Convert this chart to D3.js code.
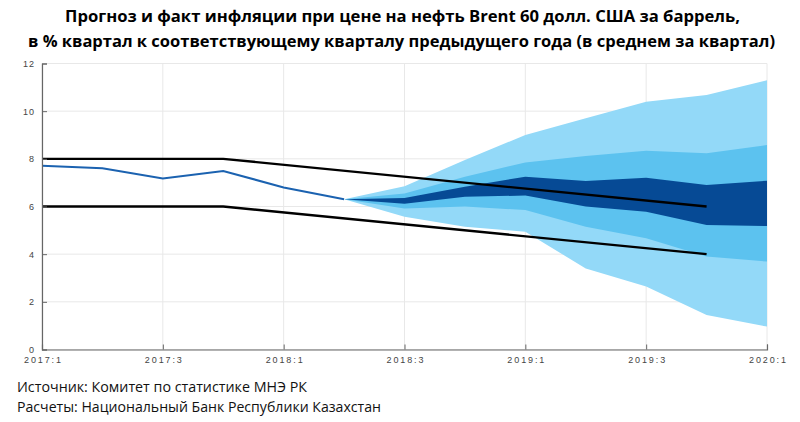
<!DOCTYPE html>
<html><head><meta charset="utf-8">
<script src="https://cdn.jsdelivr.net/npm/d3@7"></script>
<style>
html,body{margin:0;padding:0;background:#fff;}
svg{display:block;}
</style></head>
<body>
<svg id="chart" width="800" height="422"></svg>
<script>
// ---- data ----
const titleLines = [
  "Прогноз и факт инфляции при цене на нефть Brent 60 долл. США за баррель,",
  "в % квартал к соответствующему кварталу предыдущего года (в среднем за квартал)"
];
const footnotes = [
  "Источник: Комитет по статистике МНЭ РК",
  "Расчеты: Национальный Банк Республики Казахстан"
];
const xTickIdx = [0, 2, 4, 6, 8, 10, 12];
const xTickLabels = ["2017:1", "2017:3", "2018:1", "2018:3", "2019:1", "2019:3", "2020:1"];
const yTicks = [0, 2, 4, 6, 8, 10, 12];

// actual inflation, quarters 0..5
const actualIdx = [0, 1, 2, 3, 4, 5];
const actual = [7.71, 7.6, 7.18, 7.49, 6.8, 6.3];

// target corridor break points
const corridorIdx = [0, 3, 11];
const corridorUpper = [8, 8, 6];
const corridorLower = [6, 6, 4];

// fan chart, quarters 5..12
const fanIdx = [5, 6, 7, 8, 9, 10, 11, 12];
const outerHi = [6.3, 6.85, 7.95, 9.0, 9.7, 10.4, 10.68, 11.3];
const midHi   = [6.3, 6.55, 7.25, 7.85, 8.12, 8.34, 8.23, 8.58];
const darkHi  = [6.3, 6.36, 6.83, 7.25, 7.07, 7.21, 6.9, 7.08];
const darkLo  = [6.3, 6.12, 6.41, 6.46, 6.0, 5.78, 5.22, 5.18];
const midLo   = [6.3, 5.92, 6.0, 5.85, 5.15, 4.67, 3.9, 3.69];
const outerLo = [6.3, 5.57, 5.15, 4.94, 3.4, 2.64, 1.45, 0.96];

// ---- drawing ----
const svg = d3.select("#chart");
const x = d3.scaleLinear().domain([0, 12]).range([42, 767]);
const y = d3.scaleLinear().domain([0, 12]).range([349.5, 63.5]);

// gridlines
const grid = svg.append("g");
grid.selectAll("line.h").data(yTicks).join("line")
  .attr("x1", x(0)).attr("x2", x(12))
  .attr("y1", d => y(d)).attr("y2", d => y(d))
  .attr("stroke", "#e8e8e8").attr("stroke-width", 1);
grid.selectAll("line.v").data(xTickIdx).join("line")
  .attr("x1", d => x(d)).attr("x2", d => x(d))
  .attr("y1", y(0)).attr("y2", y(12))
  .attr("stroke", "#e8e8e8").attr("stroke-width", 1);

// fan bands
const band = (hi, lo) => d3.area()
  .x((d, i) => x(fanIdx[i]))
  .y0((d, i) => y(lo[i]))
  .y1((d, i) => y(hi[i]));
svg.append("path").attr("d", band(outerHi, outerLo)(fanIdx)).attr("fill", "#93d9f8");
svg.append("path").attr("d", band(midHi, midLo)(fanIdx)).attr("fill", "#5cc2ef");
svg.append("path").attr("d", band(darkHi, darkLo)(fanIdx)).attr("fill", "#064a95");

// corridor lines
const cl = arr => d3.line().x((d, i) => x(corridorIdx[i])).y((d, i) => y(arr[i]))(arr);
svg.append("path").attr("d", cl(corridorUpper)).attr("fill", "none").attr("stroke", "#000").attr("stroke-width", 2.4);
svg.append("path").attr("d", cl(corridorLower)).attr("fill", "none").attr("stroke", "#000").attr("stroke-width", 2.4);

// actual line
svg.append("path")
  .attr("d", d3.line().x((d, i) => x(actualIdx[i])).y(d => y(d))(actual))
  .attr("fill", "none").attr("stroke", "#1b62b0").attr("stroke-width", 2);

// axes
const yAxis = d3.axisLeft(y).tickValues(yTicks).tickSize(-5).tickPadding(7);
const gy = svg.append("g").attr("transform", `translate(${x(0)},0)`).call(yAxis);
const xAxis = d3.axisBottom(x).tickValues(xTickIdx).tickFormat((d, i) => xTickLabels[i]).tickSize(-5).tickPadding(0);
const gx = svg.append("g").attr("transform", `translate(0,${y(0)})`).call(xAxis);
[gx, gy].forEach(g => {
  g.select(".domain").attr("stroke", "#666").attr("stroke-width", 1.2);
  g.selectAll(".tick line").attr("stroke", "#666");
  g.selectAll(".tick text").attr("fill", "#444").attr("font-family", "'Liberation Sans', Arial, sans-serif").attr("font-size", 9);
});
gy.selectAll(".tick text").attr("letter-spacing", 1);
gx.selectAll(".tick text").attr("dy", null).attr("y", 13.5)
  .attr("textLength", 37).attr("lengthAdjust", "spacing");

// title
svg.append("g").selectAll("text").data(titleLines).join("text")
  .attr("x", (d, i) => i === 0 ? 402.5 : 401.5).attr("y", (d, i) => 22 + i * 25)
  .attr("text-anchor", "middle")
  .attr("font-family", "'Open Sans', sans-serif").attr("font-weight", "bold")
  .attr("font-size", 16).attr("fill", "#000")
  .attr("textLength", (d, i) => i === 0 ? 675 : 747).attr("lengthAdjust", "spacingAndGlyphs")
  .text(d => d);

// footnotes
svg.append("g").selectAll("text").data(footnotes).join("text")
  .attr("x", 17).attr("y", (d, i) => 392 + i * 20)
  .attr("font-family", "'Open Sans', sans-serif")
  .attr("font-size", 14).attr("fill", "#111")
  .attr("textLength", (d, i) => i === 0 ? 290 : 364).attr("lengthAdjust", "spacingAndGlyphs")
  .text(d => d);
</script>
</body></html>
